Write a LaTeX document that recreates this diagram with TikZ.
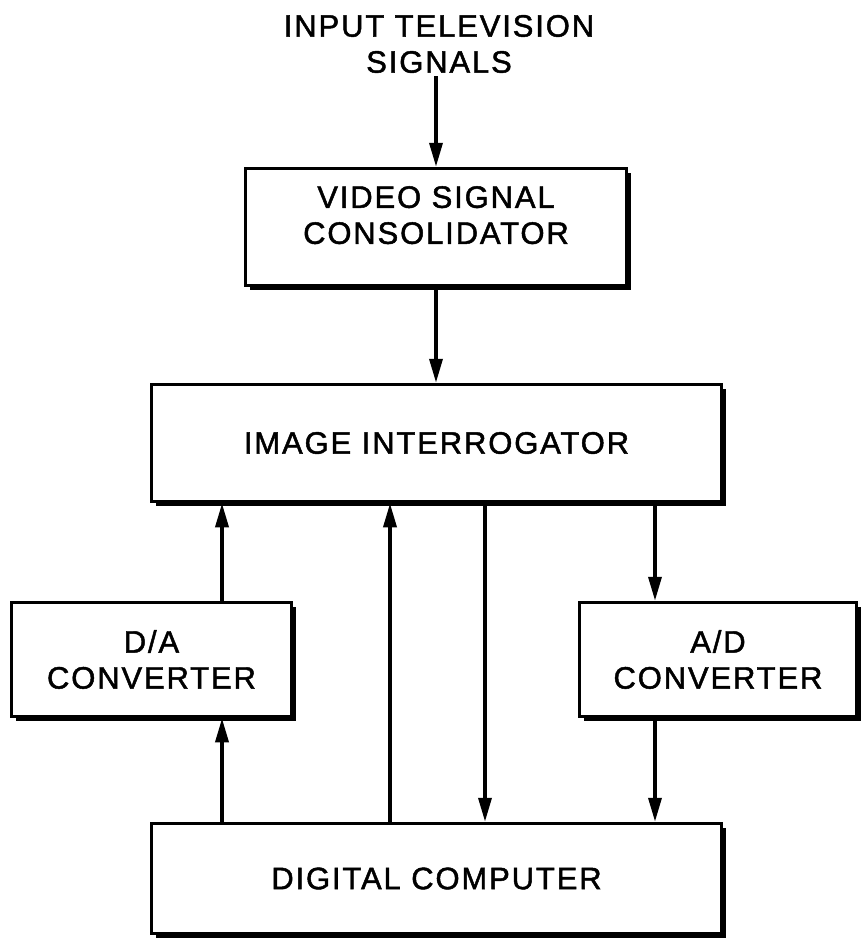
\documentclass[tikz,border=0pt]{standalone}
\usepackage{fontspec}
\setmainfont{Liberation Sans}[LetterSpace=6,FakeBold=1.5]
\usepackage{tikz}
\usetikzlibrary{arrows.meta,shadows}

\tikzset{
  blockbox/.style={draw, line width=3.5pt, fill=white, inner sep=0pt, align=center,
    drop shadow={shadow xshift=4.5pt, shadow yshift=-4.5pt, fill=black, opacity=1}},
  flow/.style={line width=3.5pt, -{Triangle[width=13pt,length=24pt]}},
  tvtext/.style={font=\fontsize{31}{36}\selectfont}
}

\begin{document}
\begin{tikzpicture}[x=1pt,y=-1pt,tvtext]
  \useasboundingbox (0,0) rectangle (862,940);
  \node[align=center, inner sep=3pt] (inlbl) at (439,44) {INPUT TELEVISION\\SIGNALS};
  \node[blockbox, minimum width=381pt, minimum height=117pt, text depth=24pt] (vsc) at (436,227) {VIDEO SIGNAL\\CONSOLIDATOR};
  \node[blockbox, minimum width=570pt, minimum height=117pt] (ii) at (436.5,443) {IMAGE INTERROGATOR};
  \node[blockbox, minimum width=280pt, minimum height=114pt] (da) at (151.5,659.5) {D/A\\CONVERTER};
  \node[blockbox, minimum width=277pt, minimum height=114pt] (ad) at (718,659.5) {A/D\\CONVERTER};
  \node[blockbox, minimum width=570pt, minimum height=110pt] (dc) at (436.5,878.5) {DIGITAL COMPUTER};

  % signal path
  \draw[flow] (inlbl.south -| vsc.north) -- (vsc.north);
  \draw[flow] (vsc.south) -- (vsc.south |- ii.north);
  % left side
  \draw[flow] ([xshift=70.5pt]da.north) -- ([xshift=70.5pt]da.north |- ii.south);
  \draw[flow] ([xshift=70.5pt]da.south |- dc.north) -- ([xshift=70.5pt]da.south);
  \draw[flow] ([xshift=-46.5pt]dc.north) -- ([xshift=-46.5pt]ii.south);
  % right side
  \draw[flow] ([xshift=48.5pt]ii.south) -- ([xshift=48.5pt]dc.north);
  \draw[flow] ([xshift=-63pt]ad.north |- ii.south) -- ([xshift=-63pt]ad.north);
  \draw[flow] ([xshift=-63pt]ad.south) -- ([xshift=-63pt]ad.south |- dc.north);
\end{tikzpicture}
\end{document}
